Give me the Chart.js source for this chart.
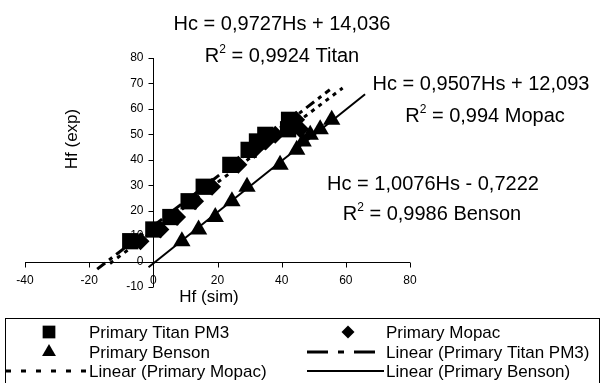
<!DOCTYPE html>
<html>
<head>
<meta charset="utf-8">
<script src="https://cdn.jsdelivr.net/npm/chart.js@4/dist/chart.umd.min.js"></script>
<style>
  body { margin: 0; background: #fff; }
  canvas { display: block; }
</style>
</head>
<body>
<canvas id="myChart" width="602" height="383"></canvas>
<script>
// DATA //
const hfExp  = [8, 12.6, 17.5, 23.7, 29.4, 38, 43.9, 47.2, 49.8, 52, 55.7];
const titan  = [-7.2, 0, 5.3, 11, 15.7, 24, 29.7, 32.3, 34.9, 42, 42.3];
const mopac  = [-4, 2.2, 7.4, 13, 18.3, 26.5, 31.5, 35, 38, 45.8, 44.5];
const benson = [8.9, 14.1, 19.3, 24.5, 29.2, 39.5, 44.7, 46.7, 48.9, 52, 55.6];

// trendline coefficients [slope, intercept] and drawn x range
const titanFit  = [0.9727, 14.036];
const mopacFit  = [0.9507, 12.093];
const bensonFit = [1.0076, -0.7222];
const titanTrendX  = [-17.5, 55];
const mopacTrendX  = [-13.5, 59];
const bensonTrendX = [-1.5, 66];

const xTicks = [-40, -20, 0, 20, 40, 60, 80];
const yTicks = [-10, 0, 10, 20, 30, 40, 50, 60, 70, 80];

const seriesNames = ['Primary Titan PM3', 'Primary Mopac', 'Primary Benson'];
const equations = [
  ['Hc = 0,9727Hs + 14,036', '0,9924 Titan'],
  ['Hc = 0,9507Hs + 12,093', '0,994 Mopac'],
  ['Hc = 1,0076Hs - 0,7222', '0,9986 Benson']
];

const FONT = "'Liberation Sans', Arial, sans-serif";
Chart.defaults.font.family = FONT;
Chart.defaults.color = '#000';

function points(xs) {
  return xs.map(function(x, i) { return { x: x, y: hfExp[i] }; });
}
function trend(fit, range) {
  return range.map(function(x) { return { x: x, y: fit[0] * x + fit[1] }; });
}

const canvas = document.getElementById('myChart');
const ctx = canvas.getContext('2d');

// legend slots: [dataset index, column, row]
const legendItems = [[0, 0, 0], [1, 1, 0], [2, 0, 1], [3, 1, 1], [4, 0, 2], [5, 1, 2]];
const legendDash = { 3: [21, 10, 6, 10], 4: [5, 10] };

const extras = {
  id: 'extras',
  afterDraw: function(chart) {
    const c = chart.ctx;
    const xs = chart.scales.x, ys = chart.scales.y;
    const x0 = Math.round(xs.getPixelForValue(0)) + 0.5;
    const y0 = Math.round(ys.getPixelForValue(0)) + 0.5;
    const yTop = ys.getPixelForValue(yTicks[yTicks.length - 1]);
    const yBot = ys.getPixelForValue(yTicks[0]);
    const xL = xs.getPixelForValue(xTicks[0]);
    const xR = xs.getPixelForValue(xTicks[xTicks.length - 1]);
    c.save();
    c.fillStyle = '#000';
    c.strokeStyle = '#000';
    c.lineWidth = 1;

    // axes, tick marks
    c.beginPath();
    c.moveTo(xL, y0);
    c.lineTo(xR, y0);
    c.moveTo(x0, yTop);
    c.lineTo(x0, yBot);
    xTicks.forEach(function(v) {
      const px = Math.round(xs.getPixelForValue(v)) + 0.5;
      c.moveTo(px, y0);
      c.lineTo(px, y0 + 5);
    });
    yTicks.forEach(function(v) {
      const py = Math.round(ys.getPixelForValue(v)) + 0.5;
      c.moveTo(x0 - 5, py);
      c.lineTo(x0, py);
    });
    c.stroke();

    // tick labels
    c.font = '12px ' + FONT;
    c.textBaseline = 'top';
    c.textAlign = 'center';
    xTicks.forEach(function(v) {
      c.fillText(String(v), xs.getPixelForValue(v), y0 + 12);
    });
    c.textBaseline = 'middle';
    c.textAlign = 'right';
    yTicks.forEach(function(v) {
      c.fillText(String(v), x0 - 10, ys.getPixelForValue(v));
    });

    // equations
    c.textBaseline = 'alphabetic';
    const eqPos = [[282, 30, 282, 62], [481, 90, 485, 122], [433, 190, 432, 220]];
    equations.forEach(function(eq, i) {
      const p = eqPos[i];
      c.font = '20px ' + FONT;
      c.textAlign = 'center';
      c.fillText(eq[0], p[0], p[1]);
      // R² line
      const wR = c.measureText('R').width;
      const rest = ' = ' + eq[1];
      const wRest = c.measureText(rest).width;
      c.font = '12px ' + FONT;
      const wSup = c.measureText('2').width;
      const x = p[2] - (wR + wSup + wRest) / 2;
      c.textAlign = 'left';
      c.font = '20px ' + FONT;
      c.fillText('R', x, p[3]);
      c.font = '12px ' + FONT;
      c.fillText('2', x + wR, p[3] - 9);
      c.font = '20px ' + FONT;
      c.fillText(rest, x + wR + wSup, p[3]);
    });

    // axis titles
    c.font = '17px ' + FONT;
    c.textAlign = 'center';
    c.textBaseline = 'middle';
    c.fillText('Hf (sim)', 209, 297);
    c.save();
    c.translate(72, 139);
    c.rotate(-Math.PI / 2);
    c.fillText('Hf (exp)', 0, 0);
    c.restore();

    // legend box
    c.strokeRect(5.5, 318.5, 594, 80);

    const colSym = [[6, 87, 49], [307, 384, 348]];
    const colText = [89, 386];
    const rowY = [332, 352, 371];
    c.font = '17px ' + FONT;
    c.textAlign = 'left';
    legendItems.forEach(function(item) {
      const ds = chart.data.datasets[item[0]];
      const cs = colSym[item[1]];
      const y = rowY[item[2]];
      c.save();
      if (ds.showLine) {
        c.strokeStyle = ds.borderColor;
        c.lineWidth = ds.borderWidth;
        c.setLineDash(legendDash[item[0]] || []);
        c.beginPath();
        c.moveTo(cs[0], y);
        c.lineTo(cs[1], y);
        c.stroke();
      } else {
        c.fillStyle = ds.backgroundColor;
        Chart.helpers.drawPoint(c, {
          pointStyle: ds.pointStyle, rotation: 0,
          radius: ds.legendRadius, borderWidth: 0
        }, cs[2], y);
      }
      c.restore();
      c.fillText(ds.label, colText[item[1]], y + 1);
    });
    c.restore();
  }
};

const chart = new Chart(ctx, {
  type: 'scatter',
  data: {
    datasets: [{
      label: seriesNames[0],
      data: points(titan),
      pointStyle: 'rect',
      pointRadius: 11.5,
      legendRadius: 9,
      backgroundColor: '#000',
      borderColor: '#000',
      borderWidth: 0,
      order: 0
    },
    {
      label: seriesNames[1],
      data: points(mopac),
      pointStyle: 'rectRot',
      pointRadius: 9,
      legendRadius: 6.5,
      backgroundColor: '#000',
      borderColor: '#000',
      borderWidth: 0,
      order: 0
    },
    {
      label: seriesNames[2],
      data: points(benson),
      pointStyle: 'triangle',
      pointRadius: 10,
      legendRadius: 8,
      backgroundColor: '#000',
      borderColor: '#000',
      borderWidth: 0,
      order: 0
    },
    {
      label: 'Linear (' + seriesNames[0] + ')',
      data: trend(titanFit, titanTrendX),
      showLine: true,
      pointRadius: 0,
      borderColor: '#000',
      borderWidth: 3,
      borderDash: [10, 5, 4, 5],
      order: 1
    },
    {
      label: 'Linear (' + seriesNames[1] + ')',
      data: trend(mopacFit, mopacTrendX),
      showLine: true,
      pointRadius: 0,
      borderColor: '#000',
      borderWidth: 3,
      borderDash: [4, 5],
      order: 1
    },
    {
      label: 'Linear (' + seriesNames[2] + ')',
      data: trend(bensonFit, bensonTrendX),
      showLine: true,
      pointRadius: 0,
      borderColor: '#000',
      borderWidth: 2,
      order: 1
    }]
  },
  options: {
    responsive: false,
    animation: false,
    layout: { padding: { left: 25, right: 192, top: 58, bottom: 96 } },
    plugins: {
      legend: { display: false },
      tooltip: { enabled: false }
    },
    scales: {
      x: {
        type: 'linear',
        min: xTicks[0],
        max: xTicks[xTicks.length - 1],
        display: false
      },
      y: {
        type: 'linear',
        min: yTicks[0],
        max: yTicks[yTicks.length - 1],
        display: false
      }
    }
  },
  plugins: [extras]
});
</script>
</body>
</html>
